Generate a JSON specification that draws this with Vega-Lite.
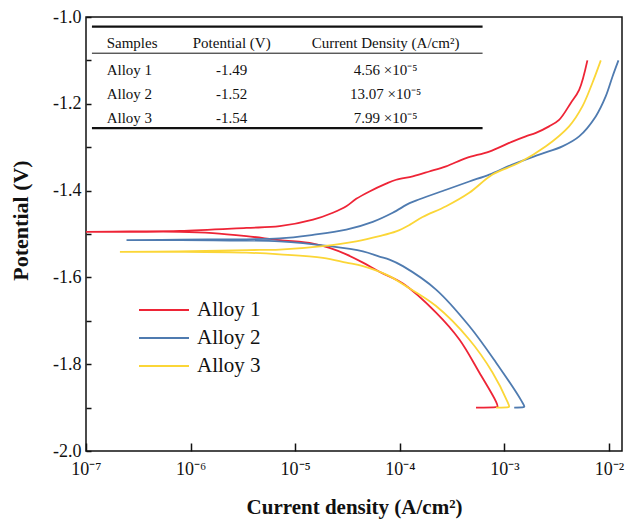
{
  "$schema": "https://vega.github.io/schema/vega-lite/v6.json",
  "width": 536,
  "height": 434,
  "autosize": {"type": "none"},
  "padding": {"left": 86, "top": 17, "right": 3, "bottom": 70},
  "background": "#ffffff",
  "config": {
    "font": "Liberation Serif",
    "view": {"stroke": "#111111", "strokeWidth": 1.5},
    "axis": {
      "domain": false,
      "tickColor": "#111111",
      "tickWidth": 1.5,
      "grid": false,
      "labelColor": "#111111",
      "titleColor": "#111111",
      "labelFont": "Liberation Serif",
      "titleFont": "Liberation Serif"
    },
    "text": {"font": "Liberation Serif", "fontSize": 15, "fill": "#111111"}
  },
  "datasets": {
    "curves": [
      {"alloy": "Alloy 1", "k": 0, "i": 5.35e-4, "E": -1.900},
      {"alloy": "Alloy 1", "k": 1, "i": 8.30e-4, "E": -1.899},
      {"alloy": "Alloy 1", "k": 2, "i": 8.59e-4, "E": -1.898},
      {"alloy": "Alloy 1", "k": 3, "i": 8.26e-4, "E": -1.885},
      {"alloy": "Alloy 1", "k": 4, "i": 5.75e-4, "E": -1.819},
      {"alloy": "Alloy 1", "k": 5, "i": 3.71e-4, "E": -1.743},
      {"alloy": "Alloy 1", "k": 6, "i": 2.22e-4, "E": -1.681},
      {"alloy": "Alloy 1", "k": 7, "i": 1.07e-4, "E": -1.614},
      {"alloy": "Alloy 1", "k": 8, "i": 6.38e-5, "E": -1.587},
      {"alloy": "Alloy 1", "k": 9, "i": 4.44e-5, "E": -1.566},
      {"alloy": "Alloy 1", "k": 10, "i": 3.08e-5, "E": -1.547},
      {"alloy": "Alloy 1", "k": 11, "i": 2.13e-5, "E": -1.532},
      {"alloy": "Alloy 1", "k": 12, "i": 1.48e-5, "E": -1.522},
      {"alloy": "Alloy 1", "k": 13, "i": 7.10e-6, "E": -1.514},
      {"alloy": "Alloy 1", "k": 14, "i": 3.41e-6, "E": -1.505},
      {"alloy": "Alloy 1", "k": 15, "i": 1.63e-6, "E": -1.498},
      {"alloy": "Alloy 1", "k": 16, "i": 7.89e-7, "E": -1.495},
      {"alloy": "Alloy 1", "k": 17, "i": 2.63e-7, "E": -1.495},
      {"alloy": "Alloy 1", "k": 18, "i": 1.0e-7, "E": -1.495},
      {"alloy": "Alloy 1", "k": 19, "i": 2.63e-7, "E": -1.494},
      {"alloy": "Alloy 1", "k": 20, "i": 7.89e-7, "E": -1.493},
      {"alloy": "Alloy 1", "k": 21, "i": 3.41e-6, "E": -1.486},
      {"alloy": "Alloy 1", "k": 22, "i": 7.10e-6, "E": -1.482},
      {"alloy": "Alloy 1", "k": 23, "i": 1.48e-5, "E": -1.467},
      {"alloy": "Alloy 1", "k": 24, "i": 2.29e-5, "E": -1.451},
      {"alloy": "Alloy 1", "k": 25, "i": 3.08e-5, "E": -1.436},
      {"alloy": "Alloy 1", "k": 26, "i": 3.83e-5, "E": -1.419},
      {"alloy": "Alloy 1", "k": 27, "i": 5.13e-5, "E": -1.402},
      {"alloy": "Alloy 1", "k": 28, "i": 7.40e-5, "E": -1.384},
      {"alloy": "Alloy 1", "k": 29, "i": 9.23e-5, "E": -1.375},
      {"alloy": "Alloy 1", "k": 30, "i": 1.33e-4, "E": -1.367},
      {"alloy": "Alloy 1", "k": 31, "i": 1.91e-4, "E": -1.356},
      {"alloy": "Alloy 1", "k": 32, "i": 2.77e-4, "E": -1.344},
      {"alloy": "Alloy 1", "k": 33, "i": 4.30e-4, "E": -1.325},
      {"alloy": "Alloy 1", "k": 34, "i": 7.16e-4, "E": -1.310},
      {"alloy": "Alloy 1", "k": 35, "i": 1.19e-3, "E": -1.287},
      {"alloy": "Alloy 1", "k": 36, "i": 1.60e-3, "E": -1.275},
      {"alloy": "Alloy 1", "k": 37, "i": 2.00e-3, "E": -1.267},
      {"alloy": "Alloy 1", "k": 38, "i": 2.67e-3, "E": -1.252},
      {"alloy": "Alloy 1", "k": 39, "i": 3.33e-3, "E": -1.237},
      {"alloy": "Alloy 1", "k": 40, "i": 4.31e-3, "E": -1.198},
      {"alloy": "Alloy 1", "k": 41, "i": 5.18e-3, "E": -1.168},
      {"alloy": "Alloy 1", "k": 42, "i": 6.21e-3, "E": -1.100},

      {"alloy": "Alloy 2", "k": 0, "i": 1.24e-3, "E": -1.900},
      {"alloy": "Alloy 2", "k": 1, "i": 1.52e-3, "E": -1.899},
      {"alloy": "Alloy 2", "k": 2, "i": 1.55e-3, "E": -1.898},
      {"alloy": "Alloy 2", "k": 3, "i": 1.45e-3, "E": -1.884},
      {"alloy": "Alloy 2", "k": 4, "i": 8.30e-4, "E": -1.796},
      {"alloy": "Alloy 2", "k": 5, "i": 4.61e-4, "E": -1.712},
      {"alloy": "Alloy 2", "k": 6, "i": 2.22e-4, "E": -1.628},
      {"alloy": "Alloy 2", "k": 7, "i": 1.07e-4, "E": -1.574},
      {"alloy": "Alloy 2", "k": 8, "i": 7.96e-5, "E": -1.559},
      {"alloy": "Alloy 2", "k": 9, "i": 6.38e-5, "E": -1.552},
      {"alloy": "Alloy 2", "k": 10, "i": 4.44e-5, "E": -1.540},
      {"alloy": "Alloy 2", "k": 11, "i": 2.13e-5, "E": -1.528},
      {"alloy": "Alloy 2", "k": 12, "i": 7.10e-6, "E": -1.517},
      {"alloy": "Alloy 2", "k": 13, "i": 2.37e-6, "E": -1.515},
      {"alloy": "Alloy 2", "k": 14, "i": 7.89e-7, "E": -1.514},
      {"alloy": "Alloy 2", "k": 15, "i": 2.44e-7, "E": -1.514},
      {"alloy": "Alloy 2", "k": 16, "i": 7.89e-7, "E": -1.513},
      {"alloy": "Alloy 2", "k": 17, "i": 7.10e-6, "E": -1.510},
      {"alloy": "Alloy 2", "k": 18, "i": 1.48e-5, "E": -1.502},
      {"alloy": "Alloy 2", "k": 19, "i": 3.08e-5, "E": -1.490},
      {"alloy": "Alloy 2", "k": 20, "i": 5.51e-5, "E": -1.472},
      {"alloy": "Alloy 2", "k": 21, "i": 8.55e-5, "E": -1.451},
      {"alloy": "Alloy 2", "k": 22, "i": 1.24e-4, "E": -1.429},
      {"alloy": "Alloy 2", "k": 23, "i": 1.54e-4, "E": -1.420},
      {"alloy": "Alloy 2", "k": 24, "i": 2.77e-4, "E": -1.398},
      {"alloy": "Alloy 2", "k": 25, "i": 4.61e-4, "E": -1.379},
      {"alloy": "Alloy 2", "k": 26, "i": 7.16e-4, "E": -1.363},
      {"alloy": "Alloy 2", "k": 27, "i": 1.19e-3, "E": -1.340},
      {"alloy": "Alloy 2", "k": 28, "i": 2.15e-3, "E": -1.317},
      {"alloy": "Alloy 2", "k": 29, "i": 3.58e-3, "E": -1.298},
      {"alloy": "Alloy 2", "k": 30, "i": 5.18e-3, "E": -1.275},
      {"alloy": "Alloy 2", "k": 31, "i": 7.46e-3, "E": -1.229},
      {"alloy": "Alloy 2", "k": 32, "i": 9.29e-3, "E": -1.183},
      {"alloy": "Alloy 2", "k": 33, "i": 1.08e-2, "E": -1.137},
      {"alloy": "Alloy 2", "k": 34, "i": 1.23e-2, "E": -1.100},

      {"alloy": "Alloy 3", "k": 0, "i": 8.30e-4, "E": -1.900},
      {"alloy": "Alloy 3", "k": 1, "i": 1.09e-3, "E": -1.899},
      {"alloy": "Alloy 3", "k": 2, "i": 1.11e-3, "E": -1.898},
      {"alloy": "Alloy 3", "k": 3, "i": 1.07e-3, "E": -1.887},
      {"alloy": "Alloy 3", "k": 4, "i": 7.69e-4, "E": -1.819},
      {"alloy": "Alloy 3", "k": 5, "i": 4.61e-4, "E": -1.743},
      {"alloy": "Alloy 3", "k": 6, "i": 2.22e-4, "E": -1.666},
      {"alloy": "Alloy 3", "k": 7, "i": 1.07e-4, "E": -1.616},
      {"alloy": "Alloy 3", "k": 8, "i": 7.96e-5, "E": -1.597},
      {"alloy": "Alloy 3", "k": 9, "i": 4.44e-5, "E": -1.574},
      {"alloy": "Alloy 3", "k": 10, "i": 3.08e-5, "E": -1.566},
      {"alloy": "Alloy 3", "k": 11, "i": 1.84e-5, "E": -1.555},
      {"alloy": "Alloy 3", "k": 12, "i": 7.10e-6, "E": -1.547},
      {"alloy": "Alloy 3", "k": 13, "i": 3.41e-6, "E": -1.543},
      {"alloy": "Alloy 3", "k": 14, "i": 7.89e-7, "E": -1.541},
      {"alloy": "Alloy 3", "k": 15, "i": 2.11e-7, "E": -1.541},
      {"alloy": "Alloy 3", "k": 16, "i": 7.89e-7, "E": -1.540},
      {"alloy": "Alloy 3", "k": 17, "i": 3.41e-6, "E": -1.537},
      {"alloy": "Alloy 3", "k": 18, "i": 7.10e-6, "E": -1.536},
      {"alloy": "Alloy 3", "k": 19, "i": 1.84e-5, "E": -1.528},
      {"alloy": "Alloy 3", "k": 20, "i": 3.83e-5, "E": -1.517},
      {"alloy": "Alloy 3", "k": 21, "i": 6.38e-5, "E": -1.505},
      {"alloy": "Alloy 3", "k": 22, "i": 9.23e-5, "E": -1.494},
      {"alloy": "Alloy 3", "k": 23, "i": 1.24e-4, "E": -1.479},
      {"alloy": "Alloy 3", "k": 24, "i": 1.65e-4, "E": -1.461},
      {"alloy": "Alloy 3", "k": 25, "i": 2.77e-4, "E": -1.436},
      {"alloy": "Alloy 3", "k": 26, "i": 4.61e-4, "E": -1.405},
      {"alloy": "Alloy 3", "k": 27, "i": 7.69e-4, "E": -1.363},
      {"alloy": "Alloy 3", "k": 28, "i": 1.38e-3, "E": -1.336},
      {"alloy": "Alloy 3", "k": 29, "i": 2.49e-3, "E": -1.298},
      {"alloy": "Alloy 3", "k": 30, "i": 4.15e-3, "E": -1.252},
      {"alloy": "Alloy 3", "k": 31, "i": 5.56e-3, "E": -1.206},
      {"alloy": "Alloy 3", "k": 32, "i": 6.93e-3, "E": -1.152},
      {"alloy": "Alloy 3", "k": 33, "i": 8.34e-3, "E": -1.100}
    ],
    "table": [
      {"Samples": "Samples", "Potential": "Potential (V)", "Current": "Current Density (A/cm²)"},
      {"Samples": "Alloy 1", "Potential": "-1.49", "Current": "4.56 ×10⁻⁵"},
      {"Samples": "Alloy 2", "Potential": "-1.52", "Current": "13.07 ×10⁻⁵"},
      {"Samples": "Alloy 3", "Potential": "-1.54", "Current": "7.99 ×10⁻⁵"}
    ]
  },
  "layer": [
    {
      "data": {"name": "curves"},
      "mark": {"type": "line", "strokeWidth": 1.8, "clip": true, "interpolate": "catmull-rom"},
      "encoding": {
        "x": {
          "field": "i",
          "type": "quantitative",
          "scale": {"type": "log", "domain": [1e-7, 0.0133], "nice": false},
          "axis": {
            "values": [1e-7, 1e-6, 1e-5, 1e-4, 1e-3, 1e-2],
            "labelExpr": "'10' + (datum.value < 5e-7 ? '⁻⁷' : datum.value < 5e-6 ? '⁻⁶' : datum.value < 5e-5 ? '⁻⁵' : datum.value < 5e-4 ? '⁻⁴' : datum.value < 5e-3 ? '⁻³' : '⁻²')",
            "offset": -8,
            "tickSize": 8,
            "labelFontSize": 18,
            "labelPadding": 9,
            "labelFlush": false,
            "title": "Current density (A/cm²)",
            "titleFontSize": 21,
            "titleFontWeight": "bold",
            "titlePadding": 18
          }
        },
        "y": {
          "field": "E",
          "type": "quantitative",
          "scale": {"domain": [-2, -1], "nice": false, "zero": false},
          "axis": {
            "values": [-2.0, -1.9, -1.8, -1.7, -1.6, -1.5, -1.4, -1.3, -1.2, -1.1, -1.0],
            "labelExpr": "round(datum.value * 10) % 2 === 0 ? '-' + format(abs(datum.value), '.1f') : ''",
            "offset": -5,
            "tickSize": 5,
            "labelFontSize": 18,
            "labelPadding": 5,
            "labelFlush": false,
            "title": "Potential (V)",
            "titleFontSize": 22,
            "titleFontWeight": "bold",
            "titlePadding": 20,
            "titleY": 203
          }
        },
        "color": {
          "field": "alloy",
          "type": "nominal",
          "scale": {
            "domain": ["Alloy 1", "Alloy 2", "Alloy 3"],
            "range": ["#ee2436", "#4f7bb0", "#fbd637"]
          },
          "legend": {
            "orient": "none",
            "legendX": 52,
            "legendY": 280,
            "title": null,
            "padding": 0,
            "symbolType": "stroke",
            "symbolSize": 2500,
            "symbolStrokeWidth": 2,
            "clipHeight": 26,
            "rowPadding": 2,
            "labelFont": "Liberation Serif",
            "labelFontSize": 21,
            "labelColor": "#111111",
            "labelOffset": 7
          }
        },
        "order": {"field": "k", "type": "quantitative"}
      }
    },
    {
      "data": {"values": [{"rule": "top"}]},
      "mark": {"type": "rule", "color": "#111111", "strokeWidth": 2.2},
      "encoding": {"x": {"datum": 1.14e-7}, "x2": {"datum": 6.18e-4}, "y": {"datum": -1.0223}}
    },
    {
      "data": {"values": [{"rule": "header"}]},
      "mark": {"type": "rule", "color": "#111111", "strokeWidth": 1},
      "encoding": {"x": {"datum": 1.14e-7}, "x2": {"datum": 6.18e-4}, "y": {"datum": -1.0834}}
    },
    {
      "data": {"values": [{"rule": "bottom"}]},
      "mark": {"type": "rule", "color": "#111111", "strokeWidth": 2.2},
      "encoding": {"x": {"datum": 1.14e-7}, "x2": {"datum": 6.18e-4}, "y": {"datum": -1.2559}}
    },
    {
      "data": {"name": "table"},
      "transform": [{"filter": "datum.Samples === 'Samples'"}],
      "encoding": {"y": {"datum": -1.0605}},
      "layer": [
        {"mark": {"type": "text", "align": "left"}, "encoding": {"x": {"datum": 1.576e-7}, "text": {"field": "Samples"}}},
        {"mark": {"type": "text"}, "encoding": {"x": {"datum": 2.47e-6}, "text": {"field": "Potential"}}},
        {"mark": {"type": "text"}, "encoding": {"x": {"datum": 7.3e-5}, "text": {"field": "Current"}}}
      ]
    },
    {
      "data": {"name": "table"},
      "transform": [{"filter": "datum.Samples === 'Alloy 1'"}],
      "encoding": {"y": {"datum": -1.1219}},
      "layer": [
        {"mark": {"type": "text", "align": "left"}, "encoding": {"x": {"datum": 1.576e-7}, "text": {"field": "Samples"}}},
        {"mark": {"type": "text"}, "encoding": {"x": {"datum": 2.47e-6}, "text": {"field": "Potential"}}},
        {"mark": {"type": "text"}, "encoding": {"x": {"datum": 7.3e-5}, "text": {"field": "Current"}}}
      ]
    },
    {
      "data": {"name": "table"},
      "transform": [{"filter": "datum.Samples === 'Alloy 2'"}],
      "encoding": {"y": {"datum": -1.1770}},
      "layer": [
        {"mark": {"type": "text", "align": "left"}, "encoding": {"x": {"datum": 1.576e-7}, "text": {"field": "Samples"}}},
        {"mark": {"type": "text"}, "encoding": {"x": {"datum": 2.47e-6}, "text": {"field": "Potential"}}},
        {"mark": {"type": "text"}, "encoding": {"x": {"datum": 7.3e-5}, "text": {"field": "Current"}}}
      ]
    },
    {
      "data": {"name": "table"},
      "transform": [{"filter": "datum.Samples === 'Alloy 3'"}],
      "encoding": {"y": {"datum": -1.2322}},
      "layer": [
        {"mark": {"type": "text", "align": "left"}, "encoding": {"x": {"datum": 1.576e-7}, "text": {"field": "Samples"}}},
        {"mark": {"type": "text"}, "encoding": {"x": {"datum": 2.47e-6}, "text": {"field": "Potential"}}},
        {"mark": {"type": "text"}, "encoding": {"x": {"datum": 7.3e-5}, "text": {"field": "Current"}}}
      ]
    }
  ]
}
